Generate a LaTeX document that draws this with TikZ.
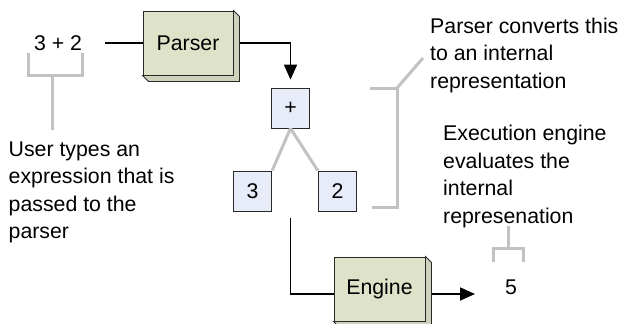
\documentclass[tikz,border=0pt]{standalone}
\usepackage{fontspec}
\setmainfont{Liberation Sans}
\usetikzlibrary{arrows.meta}
\definecolor{khaki}{RGB}{222,226,201}
\definecolor{paleblue}{RGB}{232,236,248}
\definecolor{bracketgray}{RGB}{194,194,194}
\definecolor{edgegray}{RGB}{40,40,40}
\tikzset{
  txt/.style={font=\fontsize{21.3}{27.5}\selectfont, inner sep=0pt, align=left},
  bigbox/.style={draw=edgegray, fill=khaki, line width=1pt, minimum width=90pt, minimum height=64pt, inner sep=0pt, font=\fontsize{21.3}{25}\selectfont},
  smallbox/.style={draw=edgegray, fill=paleblue, line width=0.8pt, minimum width=38.5pt, minimum height=40pt, inner sep=0pt, font=\fontsize{21.3}{25}\selectfont},
  bracket/.style={draw=bracketgray, line width=3pt},
  flow/.style={draw=black, line width=1.8pt},
  flowarrow/.style={flow, -{Triangle[width=13pt,length=15pt]}},
  extrude/.style={draw=edgegray, fill=khaki!93!black, line width=0.8pt}
}
\begin{document}
\begin{tikzpicture}[x=1pt,y=-1pt]
\useasboundingbox (0,0) rectangle (622,324);
% nodes
\node[txt] (expr) at (58,43) {3 + 2};
\node[bigbox] (parser) at (188,43) {Parser};
\node[smallbox] (plus) at (290.5,108) {+};
\node[smallbox] (three) at (252.5,191) {3};
\node[smallbox] (two) at (337.5,191) {2};
\node[bigbox, minimum width=91pt] (engine) at (379.5,289) {Engine};
\node[txt] (five) at (511,287) {5};
% 3D extrusions
\foreach \b in {parser,engine}{
  \draw[extrude] (\b.north east) -- ++(6,6) -- ([shift={(6pt,-6pt)}]\b.south east) -- ([shift={(6pt,-6pt)}]\b.south west) -- (\b.south west) -- (\b.south east) -- cycle;
}
% texts
\node[txt, anchor=north west] (usertxt) at (8.5,141.3) {User types an\\expression that is\\passed to the\\parser};
\node[txt, anchor=north west] (parsetxt) at (430,17.7) {Parser converts this\\to an internal\\representation};
\node[txt, anchor=north west] (exectxt) at (443,125) {Execution engine\\evaluates the\\internal\\represenation};
% flow connectors
\coordinate (c1) at (105,43);
\draw[flow] (c1) -- (parser.west);
\draw[flowarrow] ([xshift=6pt]parser.east) -| ([yshift=8pt]plus.north);
\coordinate (t) at (290.5,218);
\draw[flow] (t) |- ([yshift=-5pt]engine.west);
\coordinate (tip) at (475,294);
\draw[flowarrow] ([xshift=6pt,yshift=-5pt]engine.east) -- (tip);
% tree links
\draw[bracket] (plus.south) -- (three.north east);
\draw[bracket] (plus.south) -- (two.north west);
% brackets
\coordinate (bl1) at (28,53); \coordinate (bl2) at (82,53);
\coordinate (bls) at (52,130);
\draw[bracket] (bl1) |- (bl2 |- 0,75) -- (bl2);
\draw[bracket] (bls |- 0,75) -- (bls);
\coordinate (br1) at (370,88); \coordinate (br2) at (397,88);
\coordinate (br3) at (372,207); \coordinate (br4) at (423,58);
\draw[bracket] (br1) -- (br2) |- (br3);
\draw[bracket] (br2) -- (br4);
\coordinate (bb1) at (493,262); \coordinate (bb2) at (523,262);
\coordinate (bbs) at (508,226);
\draw[bracket] (bb1) |- (bb2 |- 0,248) -- (bb2);
\draw[bracket] (bbs) -- (bbs |- 0,248);
\end{tikzpicture}
\end{document}
